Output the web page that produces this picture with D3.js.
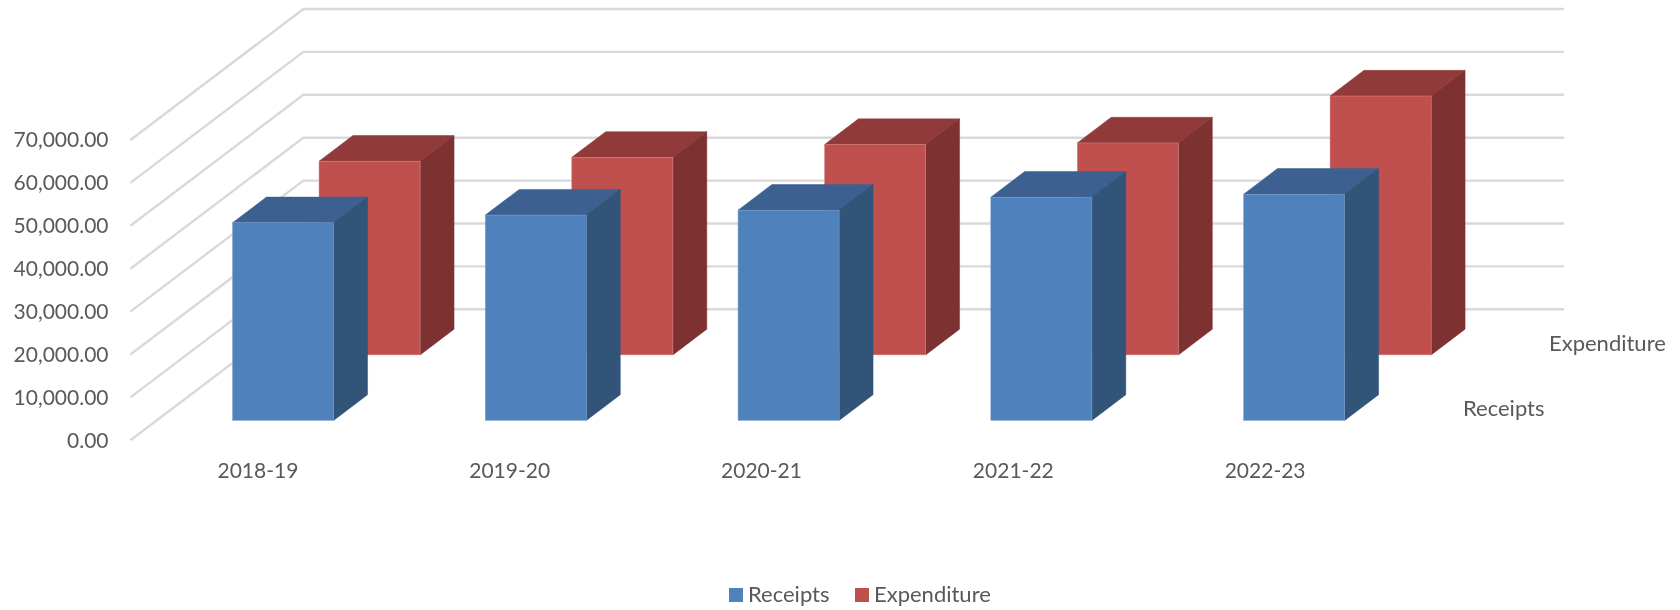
<!DOCTYPE html>
<html><head><meta charset="utf-8">
<script src="https://cdn.jsdelivr.net/npm/d3@7"></script>
<style>
html,body{margin:0;padding:0;background:#fff}
svg{display:block;filter:blur(0.45px)}
text{font-family:Lato,"Open Sans",sans-serif;fill:#595959}
.domain{display:none}
</style></head><body>
<svg id="c" width="1680" height="610"></svg>
<script>
const categories = ["2018-19","2019-20","2020-21","2021-22","2022-23"];
const seriesNames = ["Receipts","Expenditure"];
const receipts = [46060,47860,49000,52030,52720];
const expenditure = [45150,46050,49030,49400,60340];
const yTicks = [0,10000,20000,30000,40000,50000,60000,70000];
const colors = {
  Receipts:{front:"#4F81BD",top:"#3C6190",side:"#325479",edge:"#7EA3D0"},
  Expenditure:{front:"#C0504D",top:"#903A3A",side:"#7D3130",edge:"#D88A88"}
};
const values = {Receipts:receipts,Expenditure:expenditure};

const svg = d3.select("#c");
const floorY = 440.3, depthX = 173, depthY = -131;
const x = d3.scaleBand().domain(categories).range([130.4,1394.2]).paddingInner(0.6).paddingOuter(0.3);
const xLabels = d3.scaleBand().domain(categories).range([132,1391]);
const y = d3.scaleLinear().domain([0,70000]).range([floorY,floorY-300.3]);
const z = d3.scaleBand().domain(seriesNames).range([0,1]).paddingInner(0.608).paddingOuter(0.304);
const rightEnd = 1564;

// walls' gridlines
const grid = svg.append("g").attr("fill","none").attr("stroke","#D9D9D9").attr("stroke-width",2.4);
grid.selectAll("path").data(yTicks).join("path")
  .attr("d",t=>d3.line()([[x.range()[0],y(t)],[x.range()[0]+depthX,y(t)+depthY],[rightEnd,y(t)+depthY]]));

// bars: back series first, so the front series overlaps it
[...seriesNames].reverse().forEach(s=>{
  const c = colors[s];
  const t0 = z(s), t1 = z(s)+z.bandwidth();
  const g = svg.append("g");
  categories.forEach((cat,i)=>{
    const xl = x(cat)+t0*depthX, xr = xl+x.bandwidth();
    const yb = floorY+t0*depthY, h = floorY-y(values[s][i]), yt = yb-h;
    const dx = (t1-t0)*depthX, dy = (t1-t0)*depthY;
    const line = d3.line();
    g.append("path").attr("d",line([[xl,yt],[xr,yt],[xr+dx,yt+dy],[xl+dx,yt+dy]])+"Z")
      .attr("fill",c.top).attr("stroke",c.top).attr("stroke-width",0.5);
    g.append("path").attr("d",line([[xr,yb],[xr,yt],[xr+dx,yt+dy],[xr+dx,yb+dy]])+"Z")
      .attr("fill",c.side).attr("stroke",c.side).attr("stroke-width",0.5);
    g.append("rect").attr("x",xl).attr("y",yt).attr("width",x.bandwidth()).attr("height",h)
      .attr("fill",c.front).attr("stroke",c.edge).attr("stroke-width",0.5);
  });
});

// value axis
const yAxis = d3.axisLeft(y).tickValues(yTicks).tickSize(0).tickPadding(0)
  .tickFormat(d3.format(",.2f"));
const ya = svg.append("g").attr("transform","translate(108.5,0)").call(yAxis);
ya.selectAll("text").style("font-size","21px").style("font-family",null).attr("fill",null);

// category axis
const xAxis = d3.axisBottom(xLabels).tickSize(0).tickPadding(0);
const xa = svg.append("g").attr("transform","translate(0,463.5)").call(xAxis);
xa.selectAll("text").style("font-size","21px").style("font-family",null).attr("fill",null);

// series axis labels
svg.append("text").attr("x",1463).attr("y",416).style("font-size","22px").text(seriesNames[0]);
svg.append("text").attr("x",1549).attr("y",351).style("font-size","22px").text(seriesNames[1]);

// legend
const legendX = [729,855];
seriesNames.forEach((s,i)=>{
  svg.append("rect").attr("x",legendX[i]).attr("y",588).attr("width",14).attr("height",14).attr("fill",colors[s].front);
  svg.append("text").attr("x",legendX[i]+19).attr("y",602).style("font-size","22px").text(s);
});
</script>
</body></html>
